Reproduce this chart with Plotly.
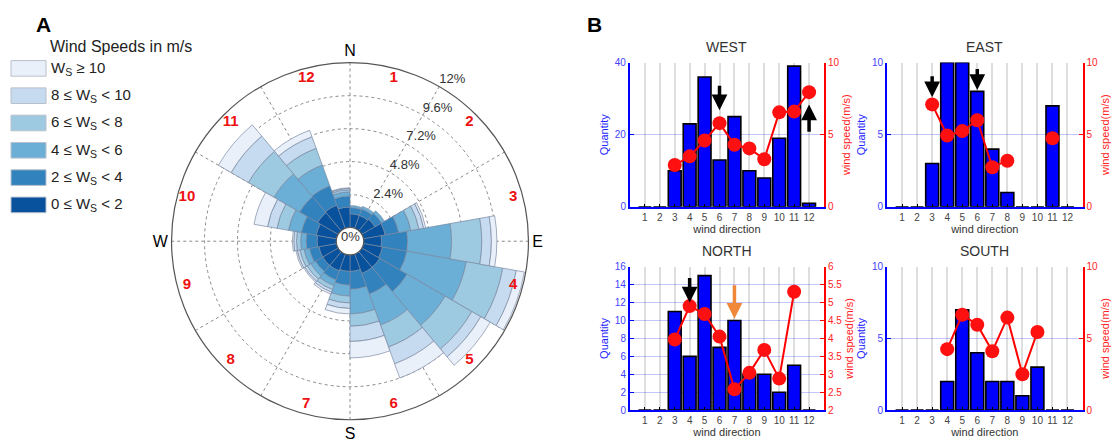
import plotly.graph_objects as go

FONT = "Liberation Sans, Arial, sans-serif"

# ---------------- Wind rose data (percent of time per 20-degree sector) ----------------
sector_centers = [10, 30, 50, 70, 90, 110, 130, 150, 170, 190, 210, 230, 250, 270, 290, 310, 330, 350]
speed_labels = ["0 ≤ W<sub>S</sub> &lt; 2", "2 ≤ W<sub>S</sub> &lt; 4", "4 ≤ W<sub>S</sub> &lt; 6",
                "6 ≤ W<sub>S</sub> &lt; 8", "8 ≤ W<sub>S</sub> &lt; 10", "W<sub>S</sub> ≥ 10"]
speed_colors = ["#08519c", "#3182bd", "#6baed6", "#9ecae1", "#c6dbef", "#eaf0fa"]
ws_0_2 = [1.0, 1.0, 1.1, 1.6, 1.3, 1.4, 1.5, 1.5, 1.2, 1.2, 1.3, 1.3, 1.3, 1.4, 1.5, 1.73, 1.8, 1.5]
ws_2_4 = [0.45, 0.5, 0.55, 1.0, 1.9, 1.8, 2.3, 1.6, 1.3, 1.0, 0.7, 0.6, 0.7, 0.8, 1.1, 1.51, 1.5, 0.8]
ws_4_6 = [0.15, 0.2, 0.25, 0.9, 3.2, 4.4, 3.2, 2.4, 1.8, 0.8, 0.45, 0.4, 0.4, 0.4, 0.95, 2.16, 1.6, 0.3]
ws_6_8 = [0.0, 0.0, 0.0, 0.6, 2.2, 2.7, 2.25, 1.7, 0.9, 0.5, 0.3, 0.3, 0.3, 0.3, 0.85, 2.15, 1.3, 0.15]
ws_8_10 = [0.0, 0.0, 0.0, 0.35, 0.7, 1.0, 0.75, 1.3, 1.1, 0.4, 0.2, 0.2, 0.2, 0.2, 0.7, 1.45, 0.9, 0.1]
ws_10p = [0.0, 0.0, 0.0, 0.15, 0.4, 0.6, 0.8, 1.1, 1.2, 0.4, 0.15, 0.1, 0.1, 0.1, 1.0, 1.07, 0.5, 0.05]
speed_bands = [ws_0_2, ws_2_4, ws_4_6, ws_6_8, ws_8_10, ws_10p]

radial_ticks = [2.4, 4.8, 7.2, 9.6, 12]
radial_ticktext = ["2.4%", "4.8%", "7.2%", "9.6%", "12%"]
dir_numbers = ["1", "2", "3", "4", "5", "6", "7", "8", "9", "10", "11", "12"]
dir_number_theta = [15, 45, 75, 105, 135, 165, 195, 225, 255, 285, 315, 345]
angular_ticks = [0, 30, 60, 90, 120, 150, 180, 210, 240, 270, 300, 330]
angular_ticktext = ["N", " ", " ", "E", " ", " ", "S", " ", " ", "W", " ", " "]

# ---------------- Bar/line panels ----------------
wind_direction = [1, 2, 3, 4, 5, 6, 7, 8, 9, 10, 11, 12]
west_qty = [0, 0, 10, 23, 36, 13, 25, 10, 8, 19, 39, 1]
west_speed = [None, None, 2.9, 3.5, 4.6, 5.8, 4.3, 4.05, 3.3, 6.55, 6.6, 7.95]
east_qty = [0, 0, 3, 10, 10, 8, 4, 1, 0, 0, 7, 0]
east_speed = [None, None, 7.1, 4.95, 5.25, 6.0, 2.75, 3.2, None, None, 4.75, None]
north_qty = [0, 0, 11, 6, 15, 7, 10, 4, 4, 2, 5, 0]
north_speed = [None, None, 3.97, 4.9, 4.68, 4.05, 2.58, 3.04, 3.68, 2.88, 5.3, None]
south_qty = [0, 0, 0, 2, 7, 4, 2, 2, 1, 3, 0, 0]
south_speed = [None, None, None, 4.25, 6.65, 5.95, 4.1, 6.45, 2.5, 5.45, None, None]

panel_titles = ["WEST", "EAST", "NORTH", "SOUTH"]
panel_qty = [west_qty, east_qty, north_qty, south_qty]
panel_speed = [west_speed, east_speed, north_speed, south_speed]
qty_ranges = [[0, 40], [0, 10], [0, 16], [0, 10]]
qty_ticks = [[0, 20, 40], [0, 5, 10], [0, 2, 4, 6, 8, 10, 12, 14, 16], [0, 5, 10]]
speed_ranges = [[0, 10], [0, 10], [2, 6], [0, 10]]
speed_ticks = [[0, 5, 10], [0, 5, 10], [2, 2.5, 3, 3.5, 4, 4.5, 5, 5.5, 6], [0, 5, 10]]
speed_ticktext = [["0", "5", "10"], ["0", "5", "10"],
                  ["2", "2.5", "3", "3.5", "4", "4.5", "5", "5.5", "6"], ["0", "5", "10"]]
# arrows: (panel, x, tip value, tail value, axis side, color)
arrows = [
    (0, 6, 6.7, 8.5, "R", "black"),
    (0, 12, 7.1, 5.1, "R", "black"),
    (1, 3, 7.6, 9.15, "R", "black"),
    (1, 6, 8.1, 9.65, "R", "black"),
    (2, 4, 12.0, 14.9, "L", "black"),
    (2, 7, 10.2, 14.1, "L", "#f0883c"),
]

domains_x = [[0.5665, 0.741], [0.7977, 0.9735], [0.5665, 0.741], [0.7977, 0.9735]]
domains_y = [[0.5327, 0.8668], [0.5327, 0.8668], [0.0621, 0.3944], [0.0621, 0.3944]]
polar_dom_x = [0.1502, 0.4793]
polar_dom_y = [0.0401, 0.8663]

fig = go.Figure()

# ---- wind rose ----
for band, col, lab in zip(speed_bands, speed_colors, speed_labels):
    fig.add_trace(go.Barpolar(
        r=band, theta=sector_centers, width=20, name=lab,
        marker=dict(color=col, line=dict(color="rgba(120,135,160,0.85)", width=0.8)),
        showlegend=False, subplot="polar"))

fig.add_trace(go.Scatterpolar(
    r=radial_ticks, theta=[30] * len(radial_ticks), text=radial_ticktext,
    mode="text", textposition="top right", cliponaxis=False,
    textfont=dict(family=FONT, size=13, color="#333333"), showlegend=False, subplot="polar"))
fig.add_trace(go.Scatterpolar(
    r=[11.3] * len(dir_numbers), theta=dir_number_theta, text=dir_numbers,
    mode="text", cliponaxis=False,
    textfont=dict(family=FONT, size=15, color="#ee1111", weight="bold"),
    showlegend=False, subplot="polar"))

# ---- bar panels ----
for i in range(4):
    xa = "x" if i == 0 else f"x{i + 1}"
    yl = "y" if i == 0 else f"y{2 * i + 1}"
    yr = f"y{2 * i + 2}"
    fig.add_trace(go.Bar(x=wind_direction, y=panel_qty[i], xaxis=xa, yaxis=yl, width=0.86,
                         marker=dict(color="#0000ff", line=dict(color="black", width=1.6)),
                         showlegend=False))
    fig.add_trace(go.Scatter(x=wind_direction, y=panel_speed[i], xaxis=xa, yaxis=yr,
                             mode="lines+markers", connectgaps=False,
                             line=dict(color="#ff0000", width=2),
                             marker=dict(color="#ff1010", size=14),
                             showlegend=False))

layout = dict(
    width=1112, height=443, autosize=False, margin=dict(l=0, r=0, t=0, b=0),
    paper_bgcolor="white", plot_bgcolor="white",
    font=dict(family=FONT, color="#333333"),
    polar=dict(
        domain=dict(x=polar_dom_x, y=polar_dom_y),
        hole=0.077, bargap=0, barmode="stack", bgcolor="white",
        angularaxis=dict(direction="clockwise", rotation=90, tickmode="array",
                         tickvals=angular_ticks, ticktext=angular_ticktext,
                         showgrid=True, gridcolor="#8a8a8a", griddash="dot", gridwidth=1,
                         showline=True, linecolor="#555555", linewidth=1.2, ticks="",
                         layer="above traces",
                         tickfont=dict(family=FONT, size=16, color="black")),
        radialaxis=dict(range=[0, 12], tickmode="array", tickvals=radial_ticks,
                        showticklabels=False, showgrid=True, gridcolor="#8a8a8a",
                        griddash="dot", gridwidth=1, showline=False, ticks="",
                        layer="above traces"),
    ),
)

for i in range(4):
    xk = "xaxis" if i == 0 else f"xaxis{i + 1}"
    ylk = "yaxis" if i == 0 else f"yaxis{2 * i + 1}"
    yrk = f"yaxis{2 * i + 2}"
    yl = "y" if i == 0 else f"y{2 * i + 1}"
    xa = "x" if i == 0 else f"x{i + 1}"
    layout[xk] = dict(domain=domains_x[i], anchor=yl, range=[0, 13], tickmode="array",
                      tickvals=wind_direction, showgrid=True, gridcolor="rgba(0,0,0,0.13)",
                      gridwidth=1.5, showline=True, linecolor="#0000ff", linewidth=1.5,
                      ticks="inside", ticklen=3, tickcolor="black", zeroline=False,
                      tickfont=dict(size=10, color="#444444"),
                      title=dict(text="wind direction", font=dict(size=11, color="#333333"),
                                 standoff=2))
    layout[f"xaxis{i + 5}"] = dict(overlaying=xa, anchor=yl, side="top", range=[0, 13],
                                   tickmode="array", tickvals=wind_direction, showgrid=False,
                                   showline=True, linecolor="black", linewidth=1.5,
                                   ticks="inside", ticklen=4, tickcolor="black",
                                   showticklabels=False, zeroline=False)
    layout[ylk] = dict(domain=domains_y[i], anchor=xa, range=qty_ranges[i], tickmode="array",
                       tickvals=qty_ticks[i], showgrid=True, gridcolor="rgba(60,60,255,0.3)",
                       gridwidth=1, showline=True, linecolor="#0000ff", linewidth=2,
                       ticks="inside", ticklen=4, tickcolor="#0000ff", zeroline=False,
                       tickfont=dict(size=10, color="#4444ff"),
                       title=dict(text="Quantity", font=dict(size=11, color="#2222ff"),
                                  standoff=4))
    layout[yrk] = dict(overlaying=yl, anchor=xa, side="right", range=speed_ranges[i],
                       tickmode="array", tickvals=speed_ticks[i], ticktext=speed_ticktext[i],
                       showgrid=False, showline=True, linecolor="#ff0000", linewidth=2,
                       ticks="inside", ticklen=4, tickcolor="#ff0000", zeroline=False,
                       tickfont=dict(size=10, color="#ff2222"),
                       title=dict(text="wind speed(m/s)", font=dict(size=11, color="#ff2222"),
                                  standoff=4))

fig.update_layout(**layout)

annotations = []
for i in range(4):
    annotations.append(dict(text=panel_titles[i], xref="paper", yref="paper",
                            x=sum(domains_x[i]) / 2, y=domains_y[i][1] + 0.012,
                            xanchor="center", yanchor="bottom", showarrow=False,
                            font=dict(size=14, color="#333333")))
for (p, xv, tip, tail, side, col) in arrows:
    xa = "x" if p == 0 else f"x{p + 1}"
    if side == "L":
        ya = "y" if p == 0 else f"y{2 * p + 1}"
    else:
        ya = f"y{2 * p + 2}"
    annotations.append(dict(x=xv, y=tip, ax=xv, ay=tail, xref=xa, yref=ya, axref=xa, ayref=ya,
                            text="", showarrow=True, arrowhead=2, arrowsize=0.9,
                            arrowwidth=3.5, arrowcolor=col))

annotations.append(dict(text="<b>A</b>", xref="paper", yref="paper", x=0.031, y=0.955,
                        xanchor="left", yanchor="middle", showarrow=False,
                        font=dict(size=21, color="black")))
annotations.append(dict(text="<b>B</b>", xref="paper", yref="paper", x=0.526, y=0.955,
                        xanchor="left", yanchor="middle", showarrow=False,
                        font=dict(size=21, color="black")))
annotations.append(dict(text="0%", xref="paper", yref="paper",
                        x=sum(polar_dom_x) / 2, y=sum(polar_dom_y) / 2 + 0.01,
                        xanchor="center", yanchor="middle", showarrow=False,
                        font=dict(size=13, color="#333333")))
# legend (custom, top = strongest wind)
annotations.append(dict(text="Wind Speeds in m/s", xref="paper", yref="paper",
                        x=48 / 1112, y=(443 - 43) / 443, xanchor="left", yanchor="middle",
                        showarrow=False, font=dict(size=16, color="#222222")))
shapes = []
for k, (col, lab) in enumerate(zip(speed_colors[::-1], speed_labels[::-1])):
    top = 57 + 28 * k
    shapes.append(dict(type="rect", xref="paper", yref="paper",
                       x0=11 / 1112, x1=46 / 1112, y0=(443 - top - 16) / 443, y1=(443 - top) / 443,
                       fillcolor=col, line=dict(color="#b8c0cc", width=1)))
    annotations.append(dict(text=lab, xref="paper", yref="paper", x=49 / 1112,
                            y=(443 - top - 8) / 443, xanchor="left", yanchor="middle",
                            showarrow=False, font=dict(size=15, color="#222222")))

fig.update_layout(annotations=annotations, shapes=shapes)
fig.write_html("out.html", config=dict(displayModeBar=False, responsive=False),
               post_script="document.body.style.margin='0';")
